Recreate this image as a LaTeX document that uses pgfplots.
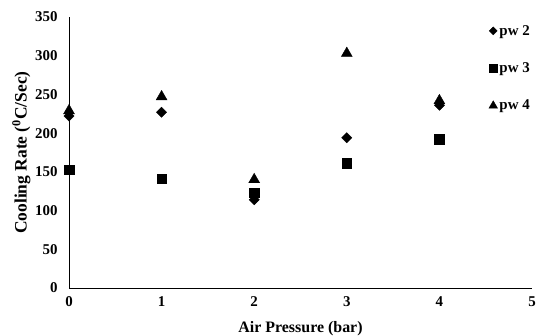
\documentclass[border=0pt]{standalone}
\usepackage{fontspec}
\setmainfont{Liberation Serif}
\usepackage{pgfplots}
\pgfplotsset{compat=1.18}
\begin{document}
\begin{tikzpicture}[x=1bp,y=1bp]
\path[use as bounding box] (-69bp,-48bp) rectangle (467bp,288bp);
\begin{axis}[
  at={(0,0)}, anchor=origin,
  scale only axis, width=463bp, height=271bp,
  xmin=0, xmax=5, ymin=0, ymax=350,
  xtick={0,1,2,3,4,5}, ytick={0,50,...,350},
  axis x line*=bottom, axis y line*=left,
  axis line style={line width=1pt, -},
  major tick length=0pt,
  tick label style={font=\fontsize{15}{17}\selectfont\bfseries},
  /pgf/number format/assume math mode=true,
  xticklabel style={yshift=-5bp},
  yticklabel style={xshift=-8bp},
  xlabel={\fontsize{16}{18}\selectfont\bfseries Air Pressure (bar)},
  ylabel={\fontsize{17.5}{19}\selectfont\bfseries Cooling Rate (\textsuperscript{0}C/Sec)},
  xlabel style={at={(axis description cs:0.5,0)}, anchor=north, yshift=-30bp},
  ylabel style={at={(axis description cs:0,0.5)}, anchor=south, yshift=35bp},
  clip=false,
  legend style={draw=none, fill=none, at={(rel axis cs:1.0,0.985)}, anchor=north east,
    font=\fontsize{15}{17}\selectfont\bfseries, row sep=22bp, inner xsep=0pt},
  legend cell align=left,
  legend image code/.code={\draw[#1,/tikz/every mark/.append style={scale=0.78}] plot coordinates {(0bp,0bp)};},
]
\addplot[only marks, mark=square*, mark size=3.6bp, mark options={rotate=45}, black] coordinates {
 (0,222) (1,227) (2,114) (3,194) (4,236)};
\addlegendentry{pw 2}
\addplot[only marks, mark=square*, mark size=4.8bp, black] coordinates {
 (0,153) (1,141) (2,123) (3,161) (4,192)};
\addlegendentry{pw 3}
\addplot[only marks, mark=triangle*, mark size=6.3bp, black] coordinates {
 (0,229) (1,247) (2,140) (3,303) (4,242)};
\addlegendentry{pw 4}
\end{axis}
\end{tikzpicture}
\end{document}
